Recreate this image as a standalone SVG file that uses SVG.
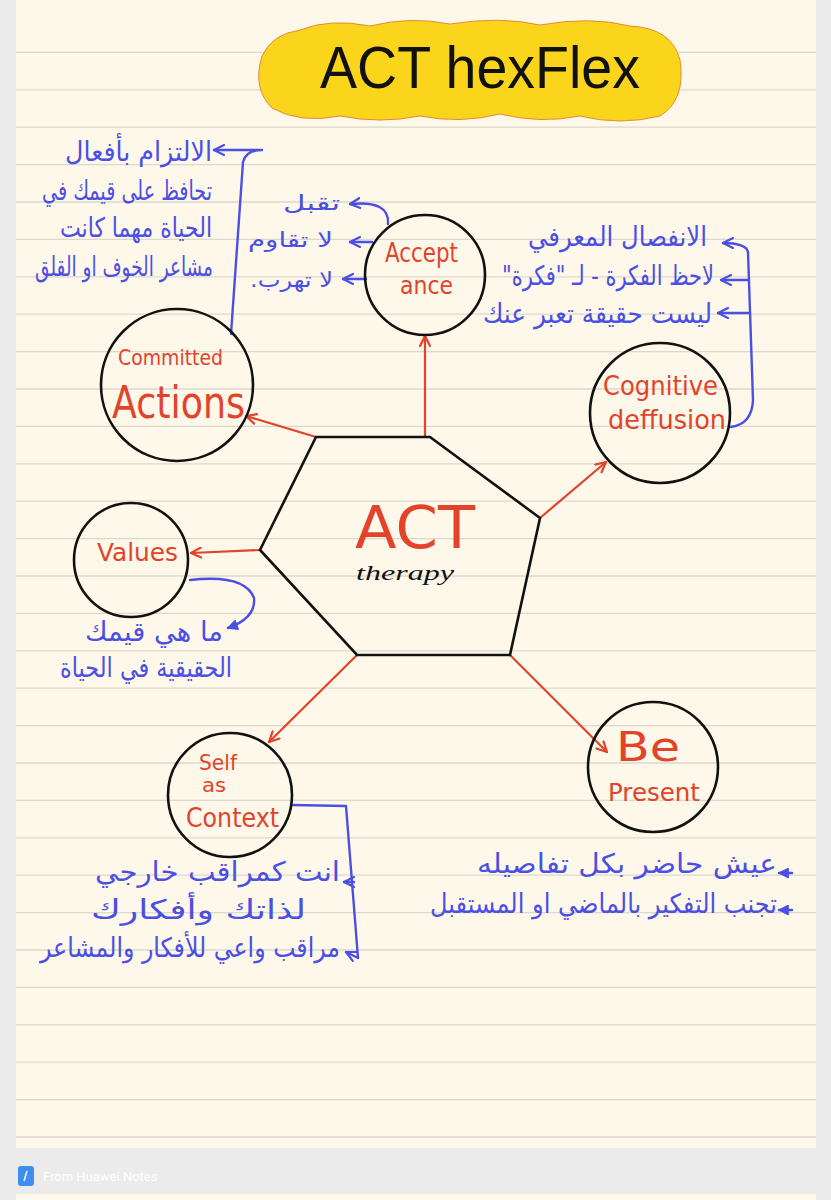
<svg xmlns="http://www.w3.org/2000/svg" width="831" height="1200" viewBox="0 0 831 1200">
<defs>
<style>
.rule{stroke:#dcd8cc;stroke-width:1.3}
.node{fill:none;stroke:#111;stroke-width:2.6}
.red{stroke:#e2432a;stroke-width:2.2;fill:none;stroke-linecap:round;stroke-linejoin:round}
.blue{stroke:#4b4fe3;stroke-width:2.4;fill:none;stroke-linecap:round;stroke-linejoin:round}
.lab{fill:#e2432a;font-family:"DejaVu Sans","Liberation Sans",sans-serif}
.ar{fill:#4b4fe3;font-family:"DejaVu Sans",sans-serif;font-size:27px;text-anchor:end}
.ars{font-size:21px}
</style>
<marker id="rh" viewBox="0 0 12 12" refX="11" refY="6" markerWidth="12" markerHeight="12" markerUnits="userSpaceOnUse" orient="auto">
<path d="M1,1 L11,6 L1,11" fill="none" stroke="#e2432a" stroke-width="2.2" stroke-linecap="round" stroke-linejoin="round"/>
</marker>
<marker id="bh" viewBox="0 0 12 12" refX="11" refY="6" markerWidth="12" markerHeight="12" markerUnits="userSpaceOnUse" orient="auto">
<path d="M1,1 L11,6 L1,11" fill="none" stroke="#4b4fe3" stroke-width="2.2" stroke-linecap="round" stroke-linejoin="round"/>
</marker>
<marker id="bf" viewBox="0 0 12 12" refX="11" refY="6" markerWidth="11" markerHeight="11" markerUnits="userSpaceOnUse" orient="auto">
<path d="M1,1 L11,6 L1,11 Z" fill="#4b4fe3" stroke="#4b4fe3" stroke-width="1.5" stroke-linejoin="round"/>
</marker>
</defs>

<rect x="0" y="0" width="831" height="1200" fill="#ebebeb"/>
<rect x="16" y="0" width="800" height="1148" fill="#fdf8e9"/>
<rect x="16" y="1194" width="800" height="6" fill="#fdf8e9"/>
<g id="rules">
<line class="rule" x1="16" x2="816" y1="52.4" y2="52.4"/>
<line class="rule" x1="16" x2="816" y1="89.8" y2="89.8"/>
<line class="rule" x1="16" x2="816" y1="127.2" y2="127.2"/>
<line class="rule" x1="16" x2="816" y1="164.6" y2="164.6"/>
<line class="rule" x1="16" x2="816" y1="202" y2="202"/>
<line class="rule" x1="16" x2="816" y1="239.4" y2="239.4"/>
<line class="rule" x1="16" x2="816" y1="276.8" y2="276.8"/>
<line class="rule" x1="16" x2="816" y1="314.2" y2="314.2"/>
<line class="rule" x1="16" x2="816" y1="351.6" y2="351.6"/>
<line class="rule" x1="16" x2="816" y1="389" y2="389"/>
<line class="rule" x1="16" x2="816" y1="426.4" y2="426.4"/>
<line class="rule" x1="16" x2="816" y1="463.8" y2="463.8"/>
<line class="rule" x1="16" x2="816" y1="501.2" y2="501.2"/>
<line class="rule" x1="16" x2="816" y1="538.6" y2="538.6"/>
<line class="rule" x1="16" x2="816" y1="576" y2="576"/>
<line class="rule" x1="16" x2="816" y1="613.4" y2="613.4"/>
<line class="rule" x1="16" x2="816" y1="650.8" y2="650.8"/>
<line class="rule" x1="16" x2="816" y1="688.2" y2="688.2"/>
<line class="rule" x1="16" x2="816" y1="725.6" y2="725.6"/>
<line class="rule" x1="16" x2="816" y1="763" y2="763"/>
<line class="rule" x1="16" x2="816" y1="800.4" y2="800.4"/>
<line class="rule" x1="16" x2="816" y1="837.8" y2="837.8"/>
<line class="rule" x1="16" x2="816" y1="875.2" y2="875.2"/>
<line class="rule" x1="16" x2="816" y1="912.6" y2="912.6"/>
<line class="rule" x1="16" x2="816" y1="950" y2="950"/>
<line class="rule" x1="16" x2="816" y1="987.4" y2="987.4"/>
<line class="rule" x1="16" x2="816" y1="1024.8" y2="1024.8"/>
<line class="rule" x1="16" x2="816" y1="1062.2" y2="1062.2"/>
<line class="rule" x1="16" x2="816" y1="1099.6" y2="1099.6"/>
<line class="rule" x1="16" x2="816" y1="1137" y2="1137"/>
</g>

<g id="title">
<path d="M300,30 Q330,18 370,26 Q410,16 450,24 Q500,16 540,25 Q590,16 630,26 Q672,28 680,60 Q686,100 660,116 Q620,126 580,116 Q540,124 500,114 Q460,124 420,116 Q380,124 340,116 Q300,124 272,108 Q252,88 262,56 Q272,34 300,30 Z" fill="#fbd51c" stroke="#e48a3a" stroke-width="1"/>
<text x="320" y="88" font-family="Liberation Sans, sans-serif" font-size="60" fill="#111" textLength="320" lengthAdjust="spacingAndGlyphs">ACT hexFlex</text>
</g>

<g id="connectors">
<path class="red" marker-end="url(#rh)" d="M425,437 L425,336"/>
<path class="red" marker-end="url(#rh)" d="M316,437 L246,416"/>
<path class="red" marker-end="url(#rh)" d="M540,518 L606,462"/>
<path class="red" marker-end="url(#rh)" d="M260,550 L191,553"/>
<path class="red" marker-end="url(#rh)" d="M357,655 L269,742"/>
<path class="red" marker-end="url(#rh)" d="M510,655 L607,752"/>
<path class="blue" marker-end="url(#bh)" d="M231,334 L243,162 Q246,150 262,150 L214,150"/>
<path class="blue" marker-end="url(#bh)" d="M388,224 Q390,200 350,204"/>
<path class="blue" marker-end="url(#bh)" d="M372,242 L350,242"/>
<path class="blue" marker-end="url(#bh)" d="M366,279 L343,279"/>
<path class="blue" marker-end="url(#bh)" d="M731,427 Q752,424 753,400 L748,252 Q746,243 723,243"/>
<path class="blue" marker-end="url(#bh)" d="M748,280 L721,280"/>
<path class="blue" marker-end="url(#bh)" d="M749,313 L718,313"/>
<path class="blue" marker-end="url(#bf)" d="M190,580 Q245,574 254,598 Q256,618 228,628"/>
<path class="blue" marker-end="url(#bh)" d="M292,805 L346,806 L358,958 L346,952"/>
<path class="blue" marker-end="url(#bh)" d="M354,882 L344,882"/>
<path class="blue" marker-end="url(#bf)" d="M792,873 L779,873"/>
<path class="blue" marker-end="url(#bf)" d="M792,910 L779,910"/>
</g>

<g id="hexagon">
<path class="node" d="M316,437 L430,437 L540,518 L510,655 L357,655 L260,550 Z"/>
<text class="lab" x="355" y="548" font-size="58" textLength="120" lengthAdjust="spacingAndGlyphs">ACT</text>
<text x="356" y="580" font-family="Liberation Serif, serif" font-style="italic" font-size="22" fill="#111" textLength="98" lengthAdjust="spacingAndGlyphs">therapy</text>
</g>

<g id="acceptance">
<circle class="node" cx="425" cy="275" r="60"/>
<text class="lab" x="385" y="262" font-size="26" textLength="73" lengthAdjust="spacingAndGlyphs">Accept</text>
<text class="lab" x="400" y="294" font-size="24" textLength="53" lengthAdjust="spacingAndGlyphs">ance</text>
<text class="ar ars" x="340" y="210" textLength="57" lengthAdjust="spacingAndGlyphs">تقبل</text>
<text class="ar ars" x="333" y="247" textLength="85" lengthAdjust="spacingAndGlyphs">لا تقاوم</text>
<text class="ar ars" x="333" y="287" textLength="83" lengthAdjust="spacingAndGlyphs">&#x200F;لا تهرب.&#x200F;</text>
</g>

<g id="committed">
<circle class="node" cx="177" cy="385" r="76"/>
<text class="lab" x="118" y="365" font-size="22" textLength="105" lengthAdjust="spacingAndGlyphs">Committed</text>
<text class="lab" x="112" y="418" font-size="44" textLength="133" lengthAdjust="spacingAndGlyphs">Actions</text>
<text class="ar" x="212" y="161" textLength="147" lengthAdjust="spacingAndGlyphs">الالتزام بأفعال</text>
<text class="ar" x="212" y="200" textLength="170" lengthAdjust="spacingAndGlyphs">تحافظ على قيمك في</text>
<text class="ar" x="212" y="237" textLength="152" lengthAdjust="spacingAndGlyphs">الحياة مهما كانت</text>
<text class="ar" x="213" y="276" textLength="178" lengthAdjust="spacingAndGlyphs">مشاعر الخوف او القلق</text>
</g>

<g id="cognitive">
<circle class="node" cx="660" cy="413" r="70"/>
<text class="lab" x="603" y="395" font-size="27" textLength="115" lengthAdjust="spacingAndGlyphs">Cognitive</text>
<text class="lab" x="608" y="429" font-size="27" textLength="118" lengthAdjust="spacingAndGlyphs">deffusion</text>
<text class="ar" x="707" y="246" textLength="179" lengthAdjust="spacingAndGlyphs">الانفصال المعرفي</text>
<text class="ar" x="714" y="285" textLength="212" lengthAdjust="spacingAndGlyphs">&#x200F;لاحظ الفكرة - لـ "فكرة"&#x200F;</text>
<text class="ar" x="712" y="323" textLength="229" lengthAdjust="spacingAndGlyphs">ليست حقيقة تعبر عنك</text>
</g>

<g id="values">
<circle class="node" cx="131" cy="560" r="57"/>
<text class="lab" x="97" y="561" font-size="24" textLength="81" lengthAdjust="spacingAndGlyphs">Values</text>
<text class="ar" x="223" y="641" textLength="138" lengthAdjust="spacingAndGlyphs">ما هي قيمك</text>
<text class="ar" x="232" y="677" textLength="172" lengthAdjust="spacingAndGlyphs">الحقيقية في الحياة</text>
</g>

<g id="self">
<circle class="node" cx="230" cy="795" r="62"/>
<text class="lab" x="199" y="770" font-size="22" textLength="38" lengthAdjust="spacingAndGlyphs">Self</text>
<text class="lab" x="202" y="792" font-size="20" textLength="24" lengthAdjust="spacingAndGlyphs">as</text>
<text class="lab" x="186" y="827" font-size="26" textLength="93" lengthAdjust="spacingAndGlyphs">Context</text>
<text class="ar" x="340" y="881" textLength="245" lengthAdjust="spacingAndGlyphs">انت كمراقب خارجي</text>
<text class="ar" x="306" y="919" textLength="215" lengthAdjust="spacingAndGlyphs">لذاتك وأفكارك</text>
<text class="ar" x="340" y="957" textLength="300" lengthAdjust="spacingAndGlyphs">مراقب واعي للأفكار والمشاعر</text>
</g>

<g id="present">
<circle class="node" cx="653" cy="767" r="65"/>
<text class="lab" x="616" y="761" font-size="40" textLength="64" lengthAdjust="spacingAndGlyphs">Be</text>
<text class="lab" x="608" y="801" font-size="25" textLength="92" lengthAdjust="spacingAndGlyphs">Present</text>
<text class="ar" x="777" y="873" textLength="300" lengthAdjust="spacingAndGlyphs">عيش حاضر بكل تفاصيله</text>
<text class="ar" x="777" y="913" textLength="347" lengthAdjust="spacingAndGlyphs">تجنب التفكير بالماضي او المستقبل</text>
</g>

<g id="footer">
<rect x="18" y="1166" width="16" height="20" rx="3" fill="#3d8ef0"/>
<path d="M24,1181 L27,1171" stroke="#fff" stroke-width="1.5"/>
<text x="43" y="1181" font-family="Roboto, sans-serif" font-size="13" fill="#ffffff">From Huawei Notes</text>
</g>
</svg>
